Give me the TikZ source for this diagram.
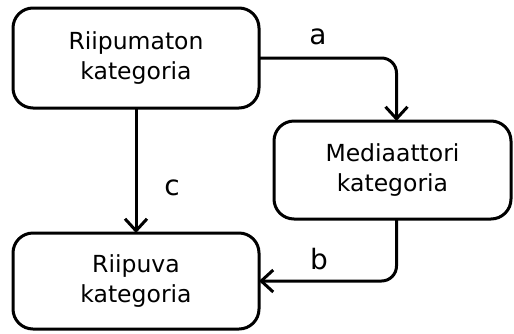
\documentclass[tikz,border=0pt]{standalone}
\usepackage{fontspec}
\setmainfont{DejaVu Sans}
\usetikzlibrary{arrows.meta}
\begin{document}
\begin{tikzpicture}[x=1pt,y=-1pt,
  box/.style={draw, line width=3pt, rounded corners=20pt, minimum width=246pt,
    minimum height=100pt, align=center, inner sep=0pt, outer sep=0pt,
    font=\fontsize{23.5}{30}\selectfont},
  link/.style={line width=3pt, rounded corners=15pt,
    -{Straight Barb[length=12pt,width=22pt,line width=3pt]}},
  lbl/.style={font=\fontsize{28}{30}\selectfont, inner sep=0pt}]
\useasboundingbox (0,0) rectangle (514,333);
% the three categories
\node[box] (ind) at (136,58) {Riipumaton\\kategoria};
\node[box, minimum width=237pt, minimum height=98pt] (med) at (392.5,170) {Mediaattori\\kategoria};
\node[box, minimum height=96pt] (dep) at (136,281) {Riipuva\\kategoria};
% connectors
\draw[link] (ind.east) -| ([xshift=4pt]med.north);
\draw[link] ([xshift=4pt]med.south) |- (dep.east);
\draw[link] (ind.south) -- (dep.north);
% labels
\node[lbl] (la) at (318,37) {a};
\node[lbl] (lb) at (319,259) {b};
\node[lbl] (lc) at (172,188) {c};
\end{tikzpicture}
\end{document}
